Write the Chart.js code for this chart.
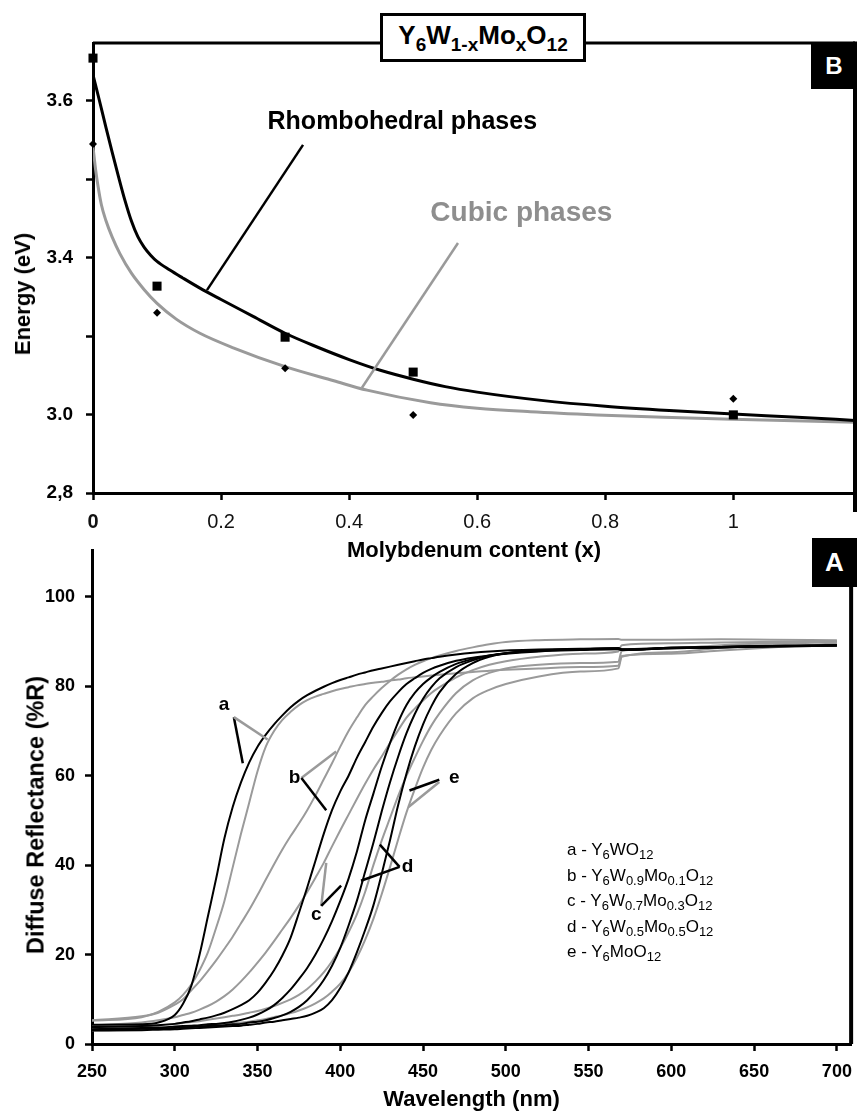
<!DOCTYPE html>
<html>
<head>
<meta charset="utf-8">
<script src="https://cdn.jsdelivr.net/npm/chart.js@4.4.1/dist/chart.umd.min.js"></script>
<style>
  html, body { margin: 0; padding: 0; background: #fff; }
  body { width: 862px; height: 1115px; position: relative; overflow: hidden;
         font-family: 'Liberation Sans', Arial, sans-serif; color: #000; }
  canvas { position: absolute; left: 0; }
  #chart-b { top: 0; }
  #chart-a { top: 530px; }
  .formula { position: absolute; left: 380px; top: 13px; width: 200px; height: 43px;
             border: 3px solid #000; background: #fff; text-align: center;
             font-weight: bold; font-size: 26px; line-height: 38px; z-index: 3; }
  .formula .sub { font-size: 19px; position: relative; top: 7px; }
  .tag { position: absolute; background: #000; color: #fff; font-weight: bold;
         display: flex; align-items: center; justify-content: center; z-index: 3; }
  #tag-b { left: 811px; top: 43px; width: 46px; height: 46px; font-size: 24px; }
  #tag-a { left: 812px; top: 538px; width: 45px; height: 49px; font-size: 26px; }
  .ytitle { position: absolute; transform: translate(-50%, -50%) rotate(-90deg);
            white-space: nowrap; font-weight: bold; z-index: 3; }
  #ytitle-b { left: 23px; top: 294px; font-size: 22px; }
  #ytitle-a { left: 36px; top: 815px; font-size: 23.5px; }
  .legend { position: absolute; left: 567px; top: 837px; font-size: 17px; line-height: 25.5px; z-index: 3; }
  .legend sub { font-size: 13px; vertical-align: -4px; line-height: 0; }
</style>
</head>
<body>
<canvas id="chart-b" width="862" height="575"></canvas>
<canvas id="chart-a" width="862" height="585"></canvas>

<div class="formula">Y<span class="sub">6</span>W<span class="sub">1-x</span>Mo<span class="sub">x</span>O<span class="sub">12</span></div>
<div class="tag" id="tag-b">B</div>
<div class="tag" id="tag-a">A</div>
<div class="ytitle" id="ytitle-b">Energy (eV)</div>
<div class="ytitle" id="ytitle-a">Diffuse Reflectance (%R)</div>
<div class="legend">
  <div>a - Y<sub>6</sub>WO<sub>12</sub></div>
  <div>b - Y<sub>6</sub>W<sub>0.9</sub>Mo<sub>0.1</sub>O<sub>12</sub></div>
  <div>c - Y<sub>6</sub>W<sub>0.7</sub>Mo<sub>0.3</sub>O<sub>12</sub></div>
  <div>d - Y<sub>6</sub>W<sub>0.5</sub>Mo<sub>0.5</sub>O<sub>12</sub></div>
  <div>e - Y<sub>6</sub>MoO<sub>12</sub></div>
</div>

<script>
const BLACK = '#000000';
const GRAY = '#9a9a9a';
const GRAY_TEXT = '#8e8e8e';
const FONT = "'Liberation Sans', Arial, sans-serif";

// ---- panel B: band gap energy vs Mo content ----
const X_CONTENT = [0, 0.1, 0.3, 0.5, 1];
const E_RHOMBO = [3.908, 3.327, 3.197, 3.108, 2.999];
const E_CUBIC = [3.689, 3.259, 3.118, 2.999, 3.04];

const RHOMBO_FIT_X = [0, 0.01, 0.02, 0.03, 0.04, 0.05, 0.06, 0.07, 0.08, 0.09, 0.1, 0.12, 0.14, 0.167, 0.2, 0.25, 0.3, 0.35, 0.4, 0.45, 0.5, 0.55, 0.6, 0.7, 0.8, 0.9, 1.0, 1.1, 1.19];
const RHOMBO_FIT_E = [3.865, 3.8, 3.733, 3.668, 3.605, 3.545, 3.493, 3.453, 3.426, 3.406, 3.39, 3.368, 3.348, 3.322, 3.293, 3.25, 3.207, 3.172, 3.14, 3.112, 3.09, 3.071, 3.057, 3.036, 3.021, 3.01, 3.001, 2.993, 2.985];

const CUBIC_FIT_X = [0, 0.004, 0.008, 0.013, 0.02, 0.03, 0.042, 0.06, 0.08, 0.1, 0.13, 0.167, 0.219, 0.3, 0.376, 0.428, 0.527, 0.6, 0.683, 0.787, 0.891, 0.999, 1.19];
const CUBIC_FIT_E = [3.682, 3.625, 3.58, 3.535, 3.495, 3.452, 3.41, 3.36, 3.318, 3.283, 3.243, 3.207, 3.17, 3.122, 3.086, 3.062, 3.03, 3.016, 3.007, 2.999, 2.993, 2.988, 2.98];

const B_X_TICKS = [0, 0.2, 0.4, 0.6, 0.8, 1];
const B_X_TICK_LABELS = ['0', '0.2', '0.4', '0.6', '0.8', '1'];
const B_Y_TICKS = [2.8, 3.0, 3.2, 3.4, 3.6, 3.8];
const B_Y_TICK_LABELS = ['2,8', '3.0', '', '3.4', '', '3.6'];

// ---- panel A: diffuse reflectance spectra ----
const WAVELENGTH = [250, 280, 290, 300, 305, 310, 315, 320, 325, 330, 335, 340, 345, 350, 355, 360, 365, 370, 375, 380, 385, 390, 395, 400, 405, 410, 415, 420, 425, 430, 435, 440, 445, 450, 455, 460, 470, 480, 490, 500, 520, 545, 568, 570, 600, 630, 660, 700];

const REFL_BLACK_A = [4.3, 4.4, 4.8, 6.5, 9, 13, 20, 28.5, 37, 46, 53, 58.5, 63, 66.5, 69.2, 71.5, 73.5, 75.3, 76.8, 78, 79, 79.9, 80.7, 81.4, 82, 82.6, 83.1, 83.6, 84, 84.4, 84.8, 85.2, 85.6, 86, 86.3, 86.6, 87.1, 87.5, 87.8, 88, 88.2, 88.4, 88.5, 88.3, 88.6, 88.8, 89, 89.2];
const REFL_BLACK_B = [3.8, 4, 4.2, 4.5, 4.8, 5.1, 5.5, 5.9, 6.4, 7, 7.8, 8.7, 9.8, 11.5, 13.8, 16.5, 19.8, 23.8, 29.3, 35, 41, 47, 52.3, 56.5, 60, 64, 67.5, 71, 74, 76.6, 78.7, 80.5, 81.8, 83, 83.9, 84.6, 85.7, 86.4, 86.9, 87.3, 87.8, 88.1, 88.3, 88.1, 88.5, 88.7, 88.9, 89.1];
const REFL_BLACK_C = [3.3, 3.6, 3.7, 3.9, 4, 4.1, 4.2, 4.4, 4.5, 4.7, 5, 5.4, 5.9, 6.6, 7.5, 8.7, 10.3, 12.2, 14.5, 17, 20, 23.5, 27.5, 32, 37, 43, 50, 56, 62, 67.3, 72, 75.8, 78.5, 80.5, 82, 83.2, 85, 86.1, 86.9, 87.4, 87.9, 88.2, 88.4, 88.1, 88.5, 88.7, 88.9, 89.1];
const REFL_BLACK_D = [3.2, 3.4, 3.5, 3.6, 3.7, 3.8, 3.9, 4, 4.1, 4.2, 4.4, 4.5, 4.8, 5, 5.3, 5.8, 6.4, 7.2, 8.3, 9.8, 11.8, 14.3, 17.5, 21.5, 26.5, 32, 38.5, 45, 52, 58.5, 64.3, 69.5, 73.8, 77.2, 79.8, 81.8, 84.3, 85.8, 86.8, 87.4, 88, 88.3, 88.5, 88.2, 88.6, 88.8, 89, 89.1];
const REFL_BLACK_E = [3, 3.1, 3.2, 3.3, 3.4, 3.5, 3.6, 3.7, 3.8, 3.9, 4, 4.1, 4.3, 4.5, 4.8, 5, 5.3, 5.6, 5.9, 6.3, 7, 8, 9.8, 12.5, 16, 20.5, 25.5, 31, 38, 45.5, 53.5, 60.5, 66.5, 71.5, 75.5, 78.7, 82.8, 85.2, 86.6, 87.4, 88, 88.3, 88.5, 88.2, 88.6, 88.8, 89, 89.2];

const REFL_GRAY_A = [5.2, 6, 7.2, 9.3, 11, 13.3, 16.5, 20.5, 26, 32, 39.5, 47, 54, 61, 66.5, 70, 72.5, 74.3, 75.8, 76.9, 77.7, 78.3, 78.9, 79.4, 79.8, 80.2, 80.5, 80.8, 81, 81.3, 81.5, 81.8, 82, 82.2, 82.4, 82.6, 82.9, 83.2, 83.5, 83.7, 84, 84.3, 84.6, 86.8, 87.3, 88, 88.7, 89.6];
const REFL_GRAY_B = [5.3, 6.2, 7, 8.8, 10, 12, 14, 16.3, 18.7, 21.3, 24, 27, 30, 33.3, 36.8, 40.2, 43.5, 46.5, 49.3, 52.3, 55.6, 59.2, 62.8, 66.5, 70, 73, 75.8, 77.8, 79.6, 81.2, 82.6, 83.8, 84.8, 85.6, 86.3, 86.9, 87.9, 88.7, 89.4, 89.9, 90.3, 90.5, 90.6, 90.4, 90.4, 90.5, 90.4, 90.3];
const REFL_GRAY_C = [4.2, 4.8, 5.3, 6, 6.5, 7, 7.7, 8.5, 9.5, 10.7, 12.2, 14, 16, 18.2, 20.5, 23, 25.6, 28.2, 31, 34, 37.2, 40.5, 44.2, 47.8, 51.3, 54.8, 58.2, 61.4, 64.3, 67.3, 70.2, 73, 75, 76.8, 78.5, 79.8, 82, 83.6, 84.8, 85.6, 86.6, 87.3, 87.8, 89.2, 89.6, 89.8, 89.9, 90];
const REFL_GRAY_D = [3.6, 4, 4.2, 4.5, 4.7, 4.9, 5.1, 5.4, 5.7, 6, 6.3, 6.6, 7, 7.4, 7.9, 8.5, 9.2, 10, 11, 12.3, 14, 16, 18.5, 21.5, 25, 29, 34, 40, 45.5, 50.5, 55.5, 60, 64, 67.8, 71.2, 74, 78.5, 81.3, 83, 84, 84.8, 85.2, 85.5, 87.9, 88.5, 89.2, 89.6, 90];
const REFL_GRAY_E = [3, 3.3, 3.4, 3.6, 3.7, 3.8, 3.9, 4, 4.2, 4.4, 4.6, 4.8, 5, 5.3, 5.6, 6, 6.4, 6.9, 7.5, 8.2, 9.1, 10.2, 11.7, 13.5, 16, 19.3, 23.3, 28, 33.5, 39.5, 45.8, 51.8, 57, 61.8, 65.8, 69, 74, 77.3, 79.2, 80.5, 82.2, 83.3, 84, 86.6, 87.6, 88.6, 89.3, 90];

const A_X_TICKS = [250, 300, 350, 400, 450, 500, 550, 600, 650, 700];
const A_Y_TICKS = [0, 20, 40, 60, 80, 100];

// annotation anchors, in data units of each panel
const B_LEADERS = [
  { from: [0.328, 3.687], to: [0.178, 3.317], color: BLACK },
  { from: [0.570, 3.437], to: [0.420, 3.068], color: GRAY, halo: true },
];
const B_NOTES = [
  { at: [0.483, 3.745], text: 'Rhombohedral phases', color: BLACK, size: 25 },
  { at: [0.669, 3.513], text: 'Cubic phases', color: GRAY_TEXT, size: 28 },
];
const A_LEADERS = [
  { from: [335.7, 73.1], to: [341.1, 62.8], color: BLACK },
  { from: [335.7, 73.1], to: [356.1, 68.1], color: GRAY },
  { from: [376.5, 59.5], to: [397.5, 65.4], color: GRAY },
  { from: [376.5, 59.5], to: [391.5, 52.3], color: BLACK },
  { from: [459.8, 59.1], to: [441.8, 56.7], color: BLACK },
  { from: [459.8, 58.6], to: [441.2, 53.0], color: GRAY },
  { from: [388.5, 30.9], to: [391.5, 40.5], color: GRAY },
  { from: [388.5, 30.9], to: [400.5, 35.4], color: BLACK },
  { from: [435.8, 39.6], to: [423.9, 44.6], color: BLACK },
  { from: [435.8, 39.6], to: [412.5, 36.5], color: BLACK },
];
const A_NOTES = [
  { at: [329.7, 75.9], text: 'a', color: BLACK, size: 19 },
  { at: [372.3, 59.5], text: 'b', color: BLACK, size: 19 },
  { at: [385.5, 28.9], text: 'c', color: BLACK, size: 19 },
  { at: [440.6, 39.6], text: 'd', color: BLACK, size: 19 },
  { at: [468.8, 59.5], text: 'e', color: BLACK, size: 19 },
];

Chart.defaults.font.family = FONT;
Chart.defaults.color = BLACK;

const pts = (xs, ys) => xs.map((x, i) => ({ x, y: ys[i] }));

// frame lines, leader lines and in-plot labels
const overlay = {
  id: 'overlay',
  afterDatasetsDraw(chart, args, opts) {
    const { ctx, chartArea: area, scales } = chart;
    const px = ([vx, vy]) => [scales.x.getPixelForValue(vx), scales.y.getPixelForValue(vy)];
    ctx.save();
    ctx.strokeStyle = BLACK;
    if (opts.topBorder) {
      ctx.lineWidth = 3;
      ctx.beginPath();
      ctx.moveTo(area.left, area.top);
      ctx.lineTo(area.right, area.top);
      ctx.stroke();
    }
    ctx.lineWidth = 4;
    ctx.beginPath();
    ctx.moveTo(area.right, area.top - 1.5);
    ctx.lineTo(area.right, area.bottom + opts.rightOverhang);
    ctx.stroke();

    (opts.leaders || []).forEach((l) => {
      const [x1, y1] = px(l.from);
      const [x2, y2] = px(l.to);
      if (l.halo) {
        ctx.strokeStyle = '#fff';
        ctx.lineWidth = 8;
        ctx.beginPath();
        ctx.moveTo(x1 + (x2 - x1) * 0.2, y1 + (y2 - y1) * 0.2);
        ctx.lineTo(x1 + (x2 - x1) * 0.85, y1 + (y2 - y1) * 0.85);
        ctx.stroke();
      }
      ctx.strokeStyle = l.color;
      ctx.lineWidth = 2.5;
      ctx.beginPath();
      ctx.moveTo(x1, y1);
      ctx.lineTo(x2, y2);
      ctx.stroke();
    });

    (opts.notes || []).forEach((n) => {
      const [x, y] = px(n.at);
      ctx.font = `bold ${n.size}px ${FONT}`;
      ctx.fillStyle = n.color;
      ctx.textAlign = 'center';
      ctx.textBaseline = 'middle';
      ctx.fillText(n.text, x, y);
    });
    ctx.restore();
  },
};

const axisBorder = { color: BLACK, width: 3 };
const tickGrid = { drawOnChartArea: false, drawTicks: true, tickLength: 7, tickColor: BLACK, tickWidth: 2.5 };

// ===== B: Energy vs molybdenum content =====
new Chart(document.getElementById('chart-b'), {
  type: 'scatter',
  data: {
    datasets: [
      { label: 'Rhombohedral', data: pts(X_CONTENT, E_RHOMBO), pointStyle: 'rect', pointRadius: 6.4,
        backgroundColor: BLACK, borderWidth: 0, clip: false },
      { label: 'Cubic', data: pts(X_CONTENT, E_CUBIC), pointStyle: 'rectRot', pointRadius: 4,
        backgroundColor: BLACK, borderWidth: 0, clip: false },
      { label: 'Rhombohedral fit', data: pts(RHOMBO_FIT_X, RHOMBO_FIT_E), showLine: true, pointRadius: 0,
        borderColor: BLACK, borderWidth: 3, cubicInterpolationMode: 'monotone' },
      { label: 'Cubic fit', data: pts(CUBIC_FIT_X, CUBIC_FIT_E), showLine: true, pointRadius: 0,
        borderColor: GRAY, borderWidth: 3, cubicInterpolationMode: 'monotone' },
    ],
  },
  options: {
    responsive: false,
    animation: false,
    devicePixelRatio: 1,
    layout: { padding: { top: 43, right: 7, left: 0, bottom: 0 } },
    plugins: {
      legend: { display: false },
      tooltip: { enabled: false },
      overlay: { topBorder: true, rightOverhang: 19, leaders: B_LEADERS, notes: B_NOTES },
    },
    scales: {
      x: {
        type: 'linear', min: 0, max: 1.19,
        afterBuildTicks: (s) => { s.ticks = B_X_TICKS.map((v) => ({ value: v })); },
        afterFit: (s) => { s.height = 82; },
        border: axisBorder,
        grid: tickGrid,
        ticks: {
          padding: 10,
          maxRotation: 0,
          color: '#111',
          font: (c) => ({ size: 20, weight: c.index === 0 ? 'bold' : 'normal' }),
          callback: (v, i) => B_X_TICK_LABELS[i],
        },
        title: { display: true, text: 'Molybdenum content (x)', font: { size: 22, weight: 'bold' },
                 padding: { top: 0, bottom: 11 } },
      },
      y: {
        type: 'linear', min: 2.8, max: 3.9465,
        afterBuildTicks: (s) => { s.ticks = B_Y_TICKS.map((v) => ({ value: v })); },
        afterFit: (s) => { s.width = 93; },
        border: axisBorder,
        grid: tickGrid,
        ticks: {
          padding: 13,
          font: { size: 19, weight: 'bold' },
          callback: (v, i) => B_Y_TICK_LABELS[i],
        },
      },
    },
  },
  plugins: [overlay],
});

// ===== A: Diffuse reflectance spectra =====
const A_CURVES = [
  { label: 'a (black)', values: REFL_BLACK_A, color: BLACK },
  { label: 'b (black)', values: REFL_BLACK_B, color: BLACK },
  { label: 'c (black)', values: REFL_BLACK_C, color: BLACK },
  { label: 'd (black)', values: REFL_BLACK_D, color: BLACK },
  { label: 'e (black)', values: REFL_BLACK_E, color: BLACK },
  { label: 'a (gray)', values: REFL_GRAY_A, color: GRAY },
  { label: 'b (gray)', values: REFL_GRAY_B, color: GRAY },
  { label: 'c (gray)', values: REFL_GRAY_C, color: GRAY },
  { label: 'd (gray)', values: REFL_GRAY_D, color: GRAY },
  { label: 'e (gray)', values: REFL_GRAY_E, color: GRAY },
];

new Chart(document.getElementById('chart-a'), {
  type: 'scatter',
  data: {
    datasets: A_CURVES.map((c) => ({
      label: c.label,
      data: pts(WAVELENGTH, c.values),
      showLine: true,
      pointRadius: 0,
      borderColor: c.color,
      borderWidth: 2,
      cubicInterpolationMode: 'monotone',
    })),
  },
  options: {
    responsive: false,
    animation: false,
    devicePixelRatio: 1,
    layout: { padding: { top: 10, right: 5, left: 0, bottom: 0 } },
    plugins: {
      legend: { display: false },
      tooltip: { enabled: false },
      overlay: { topBorder: false, rightOverhang: 0, leaders: A_LEADERS, notes: A_NOTES },
    },
    scales: {
      x: {
        type: 'linear', min: 250, max: 708.6,
        afterBuildTicks: (s) => { s.ticks = A_X_TICKS.map((v) => ({ value: v })); },
        afterFit: (s) => { s.height = 71; },
        border: axisBorder,
        grid: tickGrid,
        ticks: { padding: 10, maxRotation: 0, font: { size: 18, weight: 'bold' } },
        title: { display: true, text: 'Wavelength (nm)', font: { size: 22, weight: 'bold' },
                 padding: { top: 0, bottom: 2 } },
      },
      y: {
        type: 'linear', min: 0, max: 110.3,
        afterBuildTicks: (s) => { s.ticks = A_Y_TICKS.map((v) => ({ value: v })); },
        afterFit: (s) => { s.width = 92; },
        border: axisBorder,
        grid: tickGrid,
        ticks: { padding: 10, font: { size: 18, weight: 'bold' } },
      },
    },
  },
  plugins: [overlay],
});
</script>
</body>
</html>
